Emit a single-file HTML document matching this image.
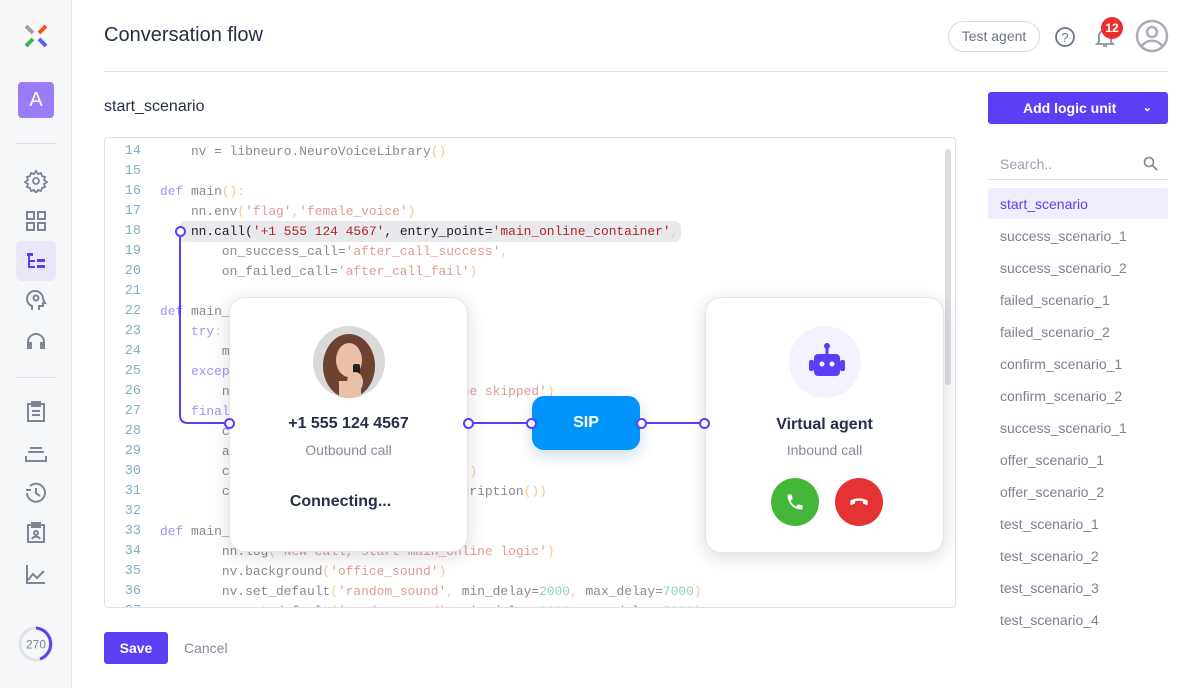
<!DOCTYPE html>
<html><head><meta charset="utf-8"><style>
*{box-sizing:border-box;margin:0;padding:0}
body{width:1200px;height:688px;background:#fff;font-family:"Liberation Sans",sans-serif;position:relative;overflow:hidden;color:#252f48}
.abs{position:absolute}
.side{left:0;top:0;width:72px;height:688px;background:#f6f7f9;border-right:1px solid #e3e5ea}
.ico{position:absolute;left:24px;width:24px;height:24px}
.code{left:104px;top:137px;width:852px;height:471px;border:1px solid #dfe1e6;border-radius:4px;overflow:hidden;font-family:"Liberation Mono",monospace;font-size:12.9px;color:#8a8a8a}
.ln{position:absolute;left:0;width:36px;text-align:right;color:#7fb0c6;font-size:13.5px}
.cl{position:absolute;left:55px;white-space:pre}
.k{color:#a193f7}.s{color:#e29a95}.p{color:#f5c796}.n{color:#8ed3b5}
.list div{position:absolute;left:1000px;font-size:14px;color:#7b8196}
.card{background:#fff;border-radius:16px;box-shadow:0 4px 18px rgba(30,30,60,.16);border:1px solid #e4e5ea}
.dot{position:absolute;width:11px;height:11px;border:2.5px solid #5b3ff6;border-radius:50%;background:#fff}
</style></head><body>
<div class="abs side">
  <svg class="abs" style="left:24px;top:24px" width="24" height="24"><g stroke-width="4" stroke-linecap="butt"><line x1="2" y1="2" x2="9" y2="9" stroke="#a0a0a0"/><line x1="22" y1="2" x2="15" y2="9" stroke="#f4511e"/><line x1="2" y1="22" x2="9" y2="15" stroke="#3ab54a"/><line x1="22" y1="22" x2="15" y2="15" stroke="#5b5cf6"/></g></svg>
  <div class="abs" style="left:18px;top:82px;width:36px;height:36px;background:#9a7cf7;border-radius:4px;color:#fff;font-size:20px;text-align:center;line-height:36px">A</div>
  <div class="abs" style="left:16px;top:143px;width:40px;height:1px;background:#dcdfe5"></div>
  <svg class="ico" style="top:169px" viewBox="0 0 24 24" fill="none" stroke="#7c8496" stroke-width="1.8"><circle cx="12" cy="12" r="3"/><path d="M12 2l2 3 3-1 1 3 3 1-1 3 3 2-3 2 1 3-3 1-1 3-3-1-2 3-2-3-3 1-1-3-3-1 1-3-3-2 3-2-1-3 3-1 1-3 3 1z"/></svg>
  <svg class="ico" style="top:209px" viewBox="0 0 24 24" fill="none" stroke="#7c8496" stroke-width="2"><rect x="3" y="3" width="7" height="7"/><rect x="14" y="3" width="7" height="7"/><rect x="3" y="14" width="7" height="7"/><rect x="14" y="14" width="7" height="7"/></svg>
  <div class="abs" style="left:16px;top:241px;width:40px;height:40px;background:#e9e8fb;border-radius:6px"></div>
  <svg class="ico" style="top:249px" viewBox="0 0 24 24" fill="#5b3ff6"><rect x="3" y="4" width="6" height="3"/><rect x="4" y="7" width="2" height="12"/><rect x="4" y="11" width="7" height="2"/><rect x="4" y="17" width="7" height="2"/><rect x="13" y="10" width="8" height="3"/><rect x="13" y="16" width="8" height="3"/></svg>
  <svg class="ico" style="top:289px" viewBox="0 0 24 24" fill="none" stroke="#7c8496" stroke-width="2"><path d="M8 21v-4c-3-1-5-4-5-7a8 8 0 0 1 16 0l2 4h-2v3h-4v4"/><circle cx="12" cy="9" r="2.5"/></svg>
  <svg class="ico" style="top:328px" viewBox="0 0 24 24" fill="#7c8496"><path d="M3 14a9 9 0 0 1 18 0v7h-5v-7h3a7 7 0 0 0-14 0h3v7H3z"/></svg>
  <div class="abs" style="left:16px;top:377px;width:40px;height:1px;background:#dcdfe5"></div>
  <svg class="ico" style="top:400px" viewBox="0 0 24 24" fill="none" stroke="#7c8496" stroke-width="2"><rect x="4" y="4" width="16" height="17"/><rect x="8" y="2" width="8" height="4" fill="#7c8496"/><line x1="8" y1="11" x2="16" y2="11"/><line x1="8" y1="15" x2="16" y2="15"/></svg>
  <svg class="ico" style="top:441px" viewBox="0 0 24 24" fill="none" stroke="#7c8496" stroke-width="2"><line x1="6" y1="7" x2="18" y2="7"/><line x1="4" y1="11" x2="20" y2="11"/><path d="M2 15v5h20v-5"/></svg>
  <svg class="ico" style="top:481px" viewBox="0 0 24 24" fill="none" stroke="#7c8496" stroke-width="2"><path d="M3 12a9 9 0 1 0 3-7"/><path d="M2 9h5"/><path d="M12 7v5l4 3"/></svg>
  <svg class="ico" style="top:521px" viewBox="0 0 24 24" fill="none" stroke="#7c8496" stroke-width="2"><rect x="4" y="4" width="16" height="17"/><rect x="8" y="2" width="8" height="4" fill="#7c8496"/><circle cx="12" cy="12" r="2"/><path d="M8 18c1-3 7-3 8 0"/></svg>
  <svg class="ico" style="top:562px" viewBox="0 0 24 24" fill="none" stroke="#7c8496" stroke-width="2"><path d="M3 3v18h18"/><path d="M4 18l5-6 4 4 7-7"/></svg>
  <svg class="abs" style="left:17px;top:625px" width="38" height="38"><circle cx="19" cy="19" r="16" fill="none" stroke="#e0e2e7" stroke-width="3"/><path d="M19 3a16 16 0 0 1 4 31" fill="none" stroke="#5b3ff6" stroke-width="3"/><text x="19" y="23.5" font-size="12" text-anchor="middle" fill="#7c8496" font-family="Liberation Sans">270</text></svg>
</div>

<div class="abs" style="left:104px;top:24px;font-size:20px;font-weight:500">Conversation flow</div>
<div class="abs" style="left:104px;top:71px;width:1064px;height:1px;background:#dfe1e6"></div>
<div class="abs" style="left:104px;top:98px;font-size:16px">start_scenario</div>

<div class="abs" style="left:948px;top:21px;width:92px;height:31px;border:1px solid #d9dbe2;border-radius:16px;font-size:14px;color:#6b7386;text-align:center;line-height:29px">Test agent</div>
<svg class="abs" style="left:1054px;top:26px" width="22" height="22"><circle cx="11" cy="11" r="9" fill="none" stroke="#6b7386" stroke-width="1.8"/><text x="11" y="16" font-size="13" text-anchor="middle" fill="#6b7386" font-family="Liberation Sans">?</text></svg>
<svg class="abs" style="left:1094px;top:26px" width="22" height="22"><path d="M5 16V10a6 6 0 0 1 12 0v6l2 2H3z M9 20h4" fill="none" stroke="#8a90a0" stroke-width="1.8"/></svg>
<div class="abs" style="left:1101px;top:17px;width:22px;height:22px;border-radius:50%;background:#e8312f;color:#fff;font-size:12px;text-align:center;line-height:22px;font-weight:bold">12</div>
<svg class="abs" style="left:1135px;top:19px" width="34" height="34"><circle cx="17" cy="17" r="15" fill="none" stroke="#a8adb8" stroke-width="2.5"/><circle cx="17" cy="13" r="5" fill="none" stroke="#a8adb8" stroke-width="2.5"/><path d="M7 27c4-7 16-7 20 0" fill="none" stroke="#a8adb8" stroke-width="2.5"/></svg>

<div class="abs" style="left:988px;top:92px;width:180px;height:32px;background:#5a3ff5;border-radius:3px;color:#fff;font-size:14px;font-weight:bold;line-height:32px;padding-left:35px">Add logic unit<span style="position:absolute;right:16px;top:0;font-size:11px">&#8964;</span></div>
<div class="abs" style="left:1000px;top:156px;font-size:14px;color:#9aa0ad">Search..</div>
<svg class="abs" style="left:1143px;top:156px" width="15" height="15"><circle cx="6" cy="6" r="4.5" fill="none" stroke="#7c8496" stroke-width="1.6"/><line x1="9.5" y1="9.5" x2="14" y2="14" stroke="#7c8496" stroke-width="1.6"/></svg>
<div class="abs" style="left:988px;top:179px;width:180px;height:1px;background:#dfe1e6"></div>
<div class="abs" style="left:988px;top:188px;width:180px;height:31px;background:#efeefc;border-radius:3px"></div>
<div class="list">
<div style="top:196px;color:#5a3ff5">start_scenario</div>
<div style="top:228px">success_scenario_1</div>
<div style="top:260px">success_scenario_2</div>
<div style="top:292px">failed_scenario_1</div>
<div style="top:324px">failed_scenario_2</div>
<div style="top:356px">confirm_scenario_1</div>
<div style="top:388px">confirm_scenario_2</div>
<div style="top:420px">success_scenario_1</div>
<div style="top:452px">offer_scenario_1</div>
<div style="top:484px">offer_scenario_2</div>
<div style="top:516px">test_scenario_1</div>
<div style="top:548px">test_scenario_2</div>
<div style="top:580px">test_scenario_3</div>
<div style="top:612px">test_scenario_4</div>
</div>

<div class="abs code">
  <div class="abs" style="left:74px;top:83px;width:502px;height:21px;background:#e8e9ed;border-radius:7px"></div>
  <div class="abs" style="left:840px;top:11px;width:6px;height:236px;background:#dcdee3;border-radius:3px"></div>
  <div style="position:absolute;left:0;top:4px;line-height:20px">
  <div class="ln" style="top:0">14</div><div class="cl" style="top:0">    nv = libneuro.NeuroVoiceLibrary<span class="p">()</span></div>
  <div class="ln" style="top:20px">15</div>
  <div class="ln" style="top:40px">16</div><div class="cl" style="top:40px"><span class="k">def</span> main<span class="p">():</span></div>
  <div class="ln" style="top:60px">17</div><div class="cl" style="top:60px">    nn.env<span class="p">(</span><span class="s">'flag'</span><span class="p">,</span><span class="s">'female_voice'</span><span class="p">)</span></div>
  <div class="ln" style="top:80px">18</div><div class="cl" style="top:80px;color:#222">    nn.call(<span style="color:#b0252a">'+1 555 124 4567'</span>, entry_point=<span style="color:#b0252a">'main_online_container'</span><span class="p">,</span></div>
  <div class="ln" style="top:100px">19</div><div class="cl" style="top:100px">        on_success_call=<span class="s">'after_call_success'</span><span class="p">,</span></div>
  <div class="ln" style="top:120px">20</div><div class="cl" style="top:120px">        on_failed_call=<span class="s">'after_call_fail'</span><span class="p">)</span></div>
  <div class="ln" style="top:140px">21</div>
  <div class="ln" style="top:160px">22</div><div class="cl" style="top:160px"><span class="k">def</span> main_online_container<span class="p">():</span></div>
  <div class="ln" style="top:180px">23</div><div class="cl" style="top:180px">    <span class="k">try</span><span class="p">:</span></div>
  <div class="ln" style="top:200px">24</div><div class="cl" style="top:200px">        main_logic<span class="p">()</span></div>
  <div class="ln" style="top:220px">25</div><div class="cl" style="top:220px">    <span class="k">except</span><span class="p">:</span></div>
  <div class="ln" style="top:240px">26</div><div class="cl" style="top:240px">        nn.log<span class="p">(</span><span class="s">'Something went wrong, the skipped'</span><span class="p">)</span></div>
  <div class="ln" style="top:260px">27</div><div class="cl" style="top:260px">    <span class="k">finally</span><span class="p">:</span></div>
  <div class="ln" style="top:280px">28</div><div class="cl" style="top:280px">        call_status = nv.get_status<span class="p">()</span></div>
  <div class="ln" style="top:300px">29</div><div class="cl" style="top:300px">        a = nn.env<span class="p">(</span><span class="s">'call_status'</span><span class="p">)</span></div>
  <div class="ln" style="top:320px">30</div><div class="cl" style="top:320px">        c = nv.get_call_durat_duration<span class="p">())</span></div>
  <div class="ln" style="top:340px">31</div><div class="cl" style="top:340px">        c = nv.get_trans.get_call_transcription<span class="p">())</span></div>
  <div class="ln" style="top:360px">32</div>
  <div class="ln" style="top:380px">33</div><div class="cl" style="top:380px"><span class="k">def</span> main_logic<span class="p">():</span></div>
  <div class="ln" style="top:400px">34</div><div class="cl" style="top:400px">        nn.log<span class="p">(</span><span class="s">'New call, start main_online logic'</span><span class="p">)</span></div>
  <div class="ln" style="top:420px">35</div><div class="cl" style="top:420px">        nv.background<span class="p">(</span><span class="s">'office_sound'</span><span class="p">)</span></div>
  <div class="ln" style="top:440px">36</div><div class="cl" style="top:440px">        nv.set_default<span class="p">(</span><span class="s">'random_sound'</span><span class="p">,</span> min_delay=<span class="n">2000</span><span class="p">,</span> max_delay=<span class="n">7000</span><span class="p">)</span></div>
  <div class="ln" style="top:460px">37</div><div class="cl" style="top:460px">        nv.set_default<span class="p">(</span><span class="s">'random_sound'</span><span class="p">,</span> min_delay=<span class="n">2000</span><span class="p">,</span> max_delay=<span class="n">7000</span><span class="p">)</span></div>
  </div>
</div>

<svg class="abs" style="left:0;top:0" width="1200" height="688"><path d="M180 231V415q0 8 8 8H229M468 423H531M641 423H704" fill="none" stroke="#5b3ff6" stroke-width="2"/></svg>
<div class="dot" style="left:174.5px;top:225.5px"></div>

<div class="abs card" style="left:229px;top:297px;width:239px;height:255px">
  <svg class="abs" style="left:83px;top:28px" width="72" height="72"><defs><clipPath id="c"><circle cx="36" cy="36" r="36"/></clipPath></defs><g clip-path="url(#c)"><rect width="72" height="72" fill="#d9d9d9"/><ellipse cx="36" cy="40" rx="26" ry="32" fill="#6b4330"/><ellipse cx="36" cy="34" rx="13" ry="17" fill="#e9c0a8"/><rect x="26" y="55" width="22" height="20" fill="#e9c0a8"/><rect x="40" y="38" width="7" height="18" rx="2" fill="#222"/><ellipse cx="42" cy="56" rx="8" ry="10" fill="#e9c0a8"/></g></svg>
  <div class="abs" style="left:0;width:100%;top:117px;text-align:center;font-size:16px;font-weight:bold">+1 555 124 4567</div>
  <div class="abs" style="left:0;width:100%;top:144px;text-align:center;font-size:14px;color:#858b9b">Outbound call</div>
  <div class="abs" style="left:-8px;width:100%;top:195px;text-align:center;font-size:16px;font-weight:bold">Connecting...</div>
</div>
<div class="abs" style="left:532px;top:396px;width:108px;height:54px;background:#0094fb;border-radius:12px;box-shadow:0 6px 16px rgba(0,80,160,.2);color:#fff;font-size:16px;font-weight:bold;text-align:center;line-height:54px">SIP</div>

<div class="abs card" style="left:705px;top:297px;width:239px;height:256px">
  <div class="abs" style="left:83px;top:28px;width:72px;height:72px;border-radius:50%;background:#f4f2ff"></div>
  <svg class="abs" style="left:101px;top:44px" width="40" height="40" viewBox="0 0 40 40" fill="#5b3ff6"><circle cx="20" cy="4" r="3"/><rect x="18.5" y="5" width="3" height="8"/><rect x="7" y="12" width="26" height="22" rx="4"/><rect x="2" y="18" width="5" height="11" rx="2"/><rect x="33" y="18" width="5" height="11" rx="2"/><circle cx="15" cy="22" r="2.5" fill="#f4f2ff"/><circle cx="25" cy="22" r="2.5" fill="#f4f2ff"/></svg>
  <div class="abs" style="left:0;width:100%;top:118px;text-align:center;font-size:16px;font-weight:bold">Virtual agent</div>
  <div class="abs" style="left:0;width:100%;top:144px;text-align:center;font-size:14px;color:#858b9b">Inbound call</div>
  <div class="abs" style="left:65px;top:180px;width:48px;height:48px;border-radius:50%;background:#44b73a"></div>
  <svg class="abs" style="left:79px;top:194px" width="20" height="20" viewBox="0 0 24 24" fill="#fff"><path d="M6.6 10.8c1.4 2.8 3.8 5.1 6.6 6.6l2.2-2.2c.3-.3.7-.4 1-.2 1.1.4 2.300.6 3.6.6.6 0 1 .4 1 1V20c0 .6-.4 1-1 1C10.6 21 3 13.4 3 4c0-.6.4-1 1-1h3.5c.6 0 1 .4 1 1 0 1.3.2 2.5.6 3.6.1.3 0 .7-.2 1z"/></svg>
  <div class="abs" style="left:129px;top:180px;width:48px;height:48px;border-radius:50%;background:#e53333"></div>
  <svg class="abs" style="left:142px;top:196px" width="22" height="16" viewBox="0 0 24 16" fill="#fff"><path d="M12 4c-3 0-6 .6-8.5 1.9-.6.3-1 .9-1 1.6v2.8c0 .7.7 1.1 1.3.9l3.2-1.2c.4-.2.7-.6.7-1V7.3c1.4-.4 2.8-.6 4.3-.6s2.9.2 4.3.6V9c0 .4.3.8.7 1l3.2 1.2c.6.2 1.3-.2 1.3-.9V7.5c0-.7-.4-1.3-1-1.6C18 4.6 15 4 12 4z"/></svg>
</div>
<div class="dot" style="left:223.5px;top:417.5px"></div>
<div class="dot" style="left:462.5px;top:417.5px"></div>
<div class="dot" style="left:525.5px;top:417.5px"></div>
<div class="dot" style="left:635.5px;top:417.5px"></div>
<div class="dot" style="left:698.5px;top:417.5px"></div>

<div class="abs" style="left:104px;top:632px;width:64px;height:32px;background:#5a3ff5;border-radius:3px;color:#fff;font-size:14px;font-weight:bold;text-align:center;line-height:32px">Save</div>
<div class="abs" style="left:184px;top:640px;font-size:14px;color:#858b9b">Cancel</div>
</body></html>
